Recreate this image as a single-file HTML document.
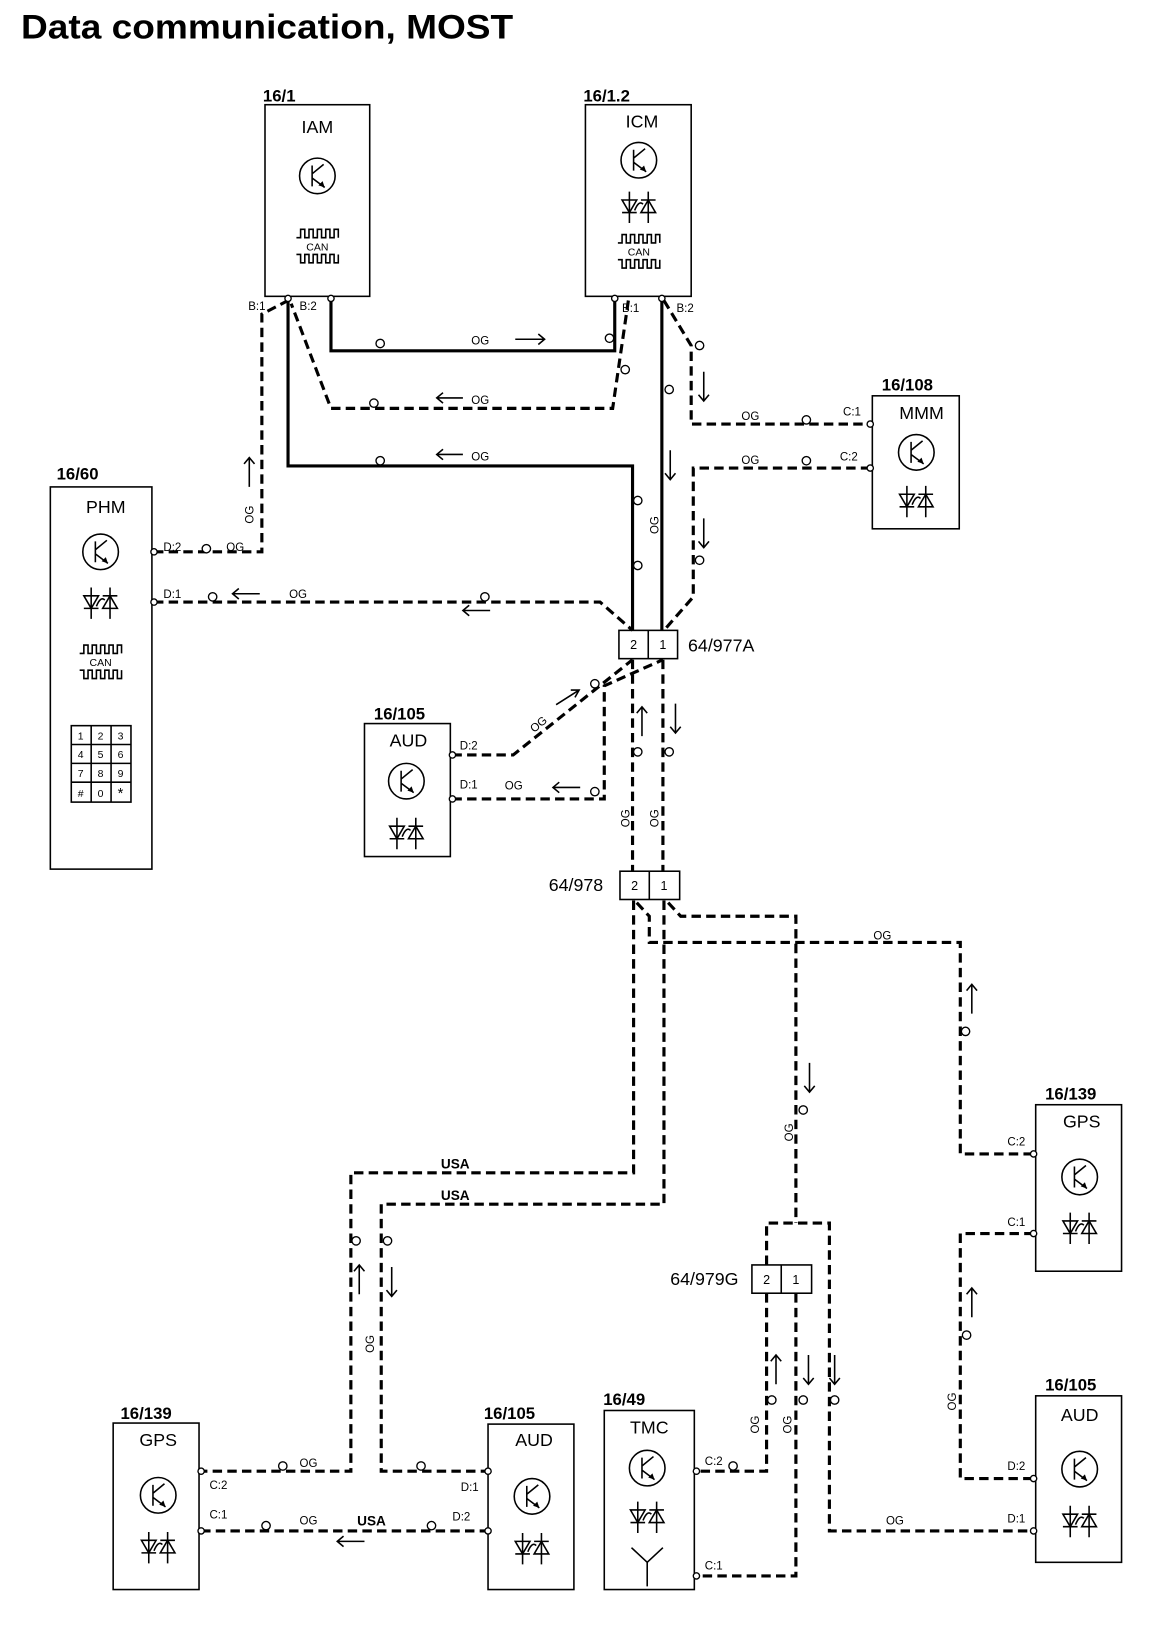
<!DOCTYPE html>
<html><head><meta charset="utf-8"><style>
html,body{margin:0;padding:0;background:#fff}
svg{display:block}
text{font-family:"Liberation Sans",Arial,sans-serif;fill:#000}
.b{font-weight:bold;font-size:16px}
.n{font-size:17px}
.s{font-size:11px}
.w{fill:none;stroke:#000;stroke-width:3}
.d{fill:none;stroke:#000;stroke-width:3;stroke-dasharray:9 5}
.t{fill:none;stroke:#000;stroke-width:1.5}
.c{fill:#fff;stroke:#000;stroke-width:1.3}
</style></head><body>
<svg width="1152" height="1644" viewBox="0 0 1100 1570" xmlns="http://www.w3.org/2000/svg">
<defs>
<g id="tr"><circle r="17" class="t"/><path d="M-5 -10V10M-5 -2L6 -11M-5 2L7 11" class="t"/><path d="M7 11L1 9L5 5Z" fill="#000"/></g>
<g id="di"><path d="M-16 -6H-2L-9 6Z M2 6H16L9 -6Z" class="t"/><path d="M-16 6H-2M2 -6H16M-9 -14V16M9 -14V16M-4 4Q0 -6 4 -2" class="t"/></g>
<g id="can"><path d="M-20 -8H-16V-16H-12V-8H-8V-16H-4V-8H0V-16H4V-8H8V-16H12V-8H16V-16H20V-8" class="t" stroke-width="1.2"/><path d="M-20 8H-16V16H-12V8H-8V16H-4V8H0V16H4V8H8V16H12V8H16V16H20V8" class="t" stroke-width="1.2"/><text x="0" y="4" text-anchor="middle" font-size="10">CAN</text></g>
</defs>
<text x="20" y="37" font-size="33" font-weight="bold" textLength="470" lengthAdjust="spacingAndGlyphs">Data communication, MOST</text>

<!-- boxes -->
<rect x="253" y="100" width="100" height="183" class="t"/>
<text x="251" y="97" class="b">16/1</text><text x="303" y="127" class="n" text-anchor="middle">IAM</text>
<use href="#tr" x="303" y="168"/><use href="#can" x="303" y="235"/>

<rect x="559" y="100" width="101" height="183" class="t" stroke-width="2"/>
<text x="557" y="97" class="b">16/1.2</text><text x="613" y="122" class="n" text-anchor="middle">ICM</text>
<use href="#tr" x="610" y="153"/><use href="#di" x="610" y="197"/><use href="#can" x="610" y="240"/>

<rect x="833" y="378" width="83" height="127" class="t"/>
<text x="842" y="373" class="b">16/108</text><text x="880" y="400" class="n" text-anchor="middle">MMM</text>
<use href="#tr" x="875" y="432"/><use href="#di" x="875" y="478"/>

<rect x="48" y="465" width="97" height="365" class="t"/>
<text x="54" y="458" class="b">16/60</text><text x="101" y="490" class="n" text-anchor="middle">PHM</text>
<use href="#tr" x="96" y="527"/><use href="#di" x="96" y="575"/><use href="#can" x="96" y="632"/>
<g class="t"><rect x="68" y="693" width="57" height="73"/><path d="M87 693V766M106 693V766M68 711H125M68 729H125M68 747H125"/></g>
<g font-size="10" text-anchor="middle"><text x="77" y="706">1</text><text x="96" y="706">2</text><text x="115" y="706">3</text><text x="77" y="724">4</text><text x="96" y="724">5</text><text x="115" y="724">6</text><text x="77" y="742">7</text><text x="96" y="742">8</text><text x="115" y="742">9</text><text x="77" y="761">#</text><text x="96" y="761">0</text><text x="115" y="762" font-size="14">*</text></g>

<rect x="348" y="691" width="82" height="127" class="t"/>
<text x="357" y="687" class="b">16/105</text><text x="390" y="713" class="n" text-anchor="middle">AUD</text>
<use href="#tr" x="388" y="746"/><use href="#di" x="388" y="795"/>

<rect x="989" y="1055" width="82" height="159" class="t"/>
<text x="998" y="1050" class="b">16/139</text><text x="1033" y="1077" class="n" text-anchor="middle">GPS</text>
<use href="#tr" x="1031" y="1124"/><use href="#di" x="1031" y="1172"/>

<rect x="989" y="1333" width="82" height="159" class="t"/>
<text x="998" y="1328" class="b">16/105</text><text x="1031" y="1357" class="n" text-anchor="middle">AUD</text>
<use href="#tr" x="1031" y="1403"/><use href="#di" x="1031" y="1452"/>

<rect x="108" y="1359" width="82" height="159" class="t"/>
<text x="115" y="1355" class="b">16/139</text><text x="151" y="1381" class="n" text-anchor="middle">GPS</text>
<use href="#tr" x="151" y="1428"/><use href="#di" x="151" y="1477"/>

<rect x="466" y="1360" width="82" height="158" class="t"/>
<text x="462" y="1355" class="b">16/105</text><text x="510" y="1381" class="n" text-anchor="middle">AUD</text>
<use href="#tr" x="508" y="1429"/><use href="#di" x="508" y="1478"/>

<rect x="577" y="1347" width="86" height="171" class="t"/>
<text x="576" y="1342" class="b">16/49</text><text x="620" y="1369" class="n" text-anchor="middle">TMC</text>
<use href="#tr" x="618" y="1402"/><use href="#di" x="618" y="1448"/>
<path d="M618 1492V1515M603 1478L618 1492L633 1478" class="t"/>

<!-- connectors -->
<g class="t"><rect x="591" y="602" width="56" height="27"/><path d="M619 602V629"/>
<rect x="592" y="832" width="57" height="27"/><path d="M620 832V859"/>
<rect x="718" y="1208" width="57" height="27"/><path d="M746 1208V1235"/></g>
<g font-size="12" text-anchor="middle"><text x="605" y="620">2</text><text x="633" y="620">1</text><text x="606" y="850">2</text><text x="634" y="850">1</text><text x="732" y="1226">2</text><text x="760" y="1226">1</text></g>
<text x="657" y="622" class="n">64/977A</text>
<text x="524" y="851" class="n">64/978</text>
<text x="640" y="1227" class="n">64/979G</text>

<!-- solid wires -->
<path d="M316 285V335H587V285" class="w"/>
<path d="M275 285V445H604V602" class="w"/>
<path d="M632 285V602" class="w"/>

<!-- dashed wires -->
<path d="M600 287L585 390H316L278 290" class="d"/>
<path d="M634 287L660 330V405H831" class="d"/>
<path d="M831 447H662V570L634 602" class="d"/>
<path d="M147 527H250V300L275 287" class="d"/>
<path d="M147 575H573L604 602" class="d"/>
<path d="M432 721H490L604 630" class="d"/>
<path d="M432 763H577V655L633 630" class="d"/>
<path d="M604 630V832" class="d"/>
<path d="M633 630V832" class="d"/>
<path d="M605 860V1120H335V1405H192" class="d"/>
<path d="M634 860V1150H364V1405H466" class="d"/>
<path d="M192 1462H466" class="d"/>
<path d="M608 862L620 875V900H917V1102H987" class="d"/>
<path d="M638 862L650 875H760V1168" class="d"/>
<path d="M732 1208V1168H792V1462H987" class="d"/>
<path d="M732 1235V1405H665" class="d"/>
<path d="M760 1235V1505H665" class="d"/>
<path d="M987 1178H917V1412H987" class="d"/>

<!-- pin circles -->
<g class="c">
<circle cx="275" cy="285" r="3"/><circle cx="316" cy="285" r="3"/><circle cx="587" cy="285" r="3"/><circle cx="632" cy="285" r="3"/>
<circle cx="831" cy="405" r="3"/><circle cx="831" cy="447" r="3"/><circle cx="147" cy="527" r="3"/><circle cx="147" cy="575" r="3"/>
<circle cx="432" cy="721" r="3"/><circle cx="432" cy="763" r="3"/><circle cx="987" cy="1102" r="3"/><circle cx="987" cy="1178" r="3"/>
<circle cx="987" cy="1412" r="3"/><circle cx="987" cy="1462" r="3"/><circle cx="192" cy="1405" r="3"/><circle cx="192" cy="1462" r="3"/>
<circle cx="466" cy="1405" r="3"/><circle cx="466" cy="1462" r="3"/><circle cx="665" cy="1405" r="3"/><circle cx="665" cy="1505" r="3"/>
<circle cx="363" cy="328" r="4"/><circle cx="582" cy="323" r="4"/><circle cx="363" cy="440" r="4"/><circle cx="609" cy="478" r="4"/>
<circle cx="357" cy="385" r="4"/><circle cx="597" cy="353" r="4"/><circle cx="770" cy="401" r="4"/><circle cx="770" cy="440" r="4"/>
<circle cx="639" cy="372" r="4"/><circle cx="668" cy="330" r="4"/><circle cx="668" cy="535" r="4"/><circle cx="609" cy="540" r="4"/>
<circle cx="197" cy="524" r="4"/><circle cx="203" cy="570" r="4"/><circle cx="463" cy="570" r="4"/>
<circle cx="568" cy="653" r="4"/><circle cx="568" cy="756" r="4"/><circle cx="609" cy="718" r="4"/><circle cx="639" cy="718" r="4"/>
<circle cx="922" cy="985" r="4"/><circle cx="767" cy="1060" r="4"/><circle cx="340" cy="1185" r="4"/><circle cx="370" cy="1185" r="4"/>
<circle cx="923" cy="1275" r="4"/><circle cx="737" cy="1337" r="4"/><circle cx="767" cy="1337" r="4"/><circle cx="797" cy="1337" r="4"/>
<circle cx="270" cy="1400" r="4"/><circle cx="402" cy="1400" r="4"/><circle cx="254" cy="1457" r="4"/><circle cx="412" cy="1457" r="4"/><circle cx="700" cy="1400" r="4"/>
</g>

<!-- arrows -->
<g class="t" stroke-width="1.4">
<path d="M492 324H520M514 319L520 324L514 329"/>
<path d="M417 380H442M423 375L417 380L423 385"/>
<path d="M417 434H442M423 429L417 434L423 439"/>
<path d="M640 430V458M635 452L640 458L645 452"/>
<path d="M672 355V383M667 377L672 383L677 377"/>
<path d="M672 495V523M667 517L672 523L677 517"/>
<path d="M238 437V465M233 443L238 437L243 443"/>
<path d="M222 567H248M228 562L222 567L228 572"/>
<path d="M442 583H468M448 578L442 583L448 588"/>
<path d="M531 673L553 659M545 659L553 659L549 666"/>
<path d="M528 752H554M534 747L528 752L534 757"/>
<path d="M613 675V703M608 681L613 675L618 681"/>
<path d="M645 672V700M640 694L645 700L650 694"/>
<path d="M928 940V968M923 946L928 940L933 946"/>
<path d="M773 1015V1043M768 1037L773 1043L778 1037"/>
<path d="M343 1208V1236M338 1214L343 1208L348 1214"/>
<path d="M374 1210V1238M369 1232L374 1238L379 1232"/>
<path d="M928 1230V1258M923 1236L928 1230L933 1236"/>
<path d="M741 1294V1322M736 1300L741 1294L746 1300"/>
<path d="M772 1294V1322M767 1316L772 1322L777 1316"/>
<path d="M797 1294V1322M792 1316L797 1322L802 1316"/>
<path d="M322 1472H348M328 1467L322 1472L328 1477"/>
</g>

<!-- wire labels -->
<g class="s">
<text x="450" y="329">OG</text><text x="450" y="386">OG</text><text x="450" y="440">OG</text>
<text x="708" y="401">OG</text><text x="708" y="443">OG</text><text x="216" y="526">OG</text><text x="276" y="571">OG</text>
<text x="482" y="754">OG</text><text x="286" y="1401">OG</text><text x="286" y="1456">OG</text><text x="834" y="897">OG</text><text x="846" y="1456">OG</text>
<text x="237" y="296">B:1</text><text x="286" y="296">B:2</text><text x="594" y="298">B:1</text><text x="646" y="298">B:2</text>
<text x="805" y="397">C:1</text><text x="802" y="440">C:2</text><text x="156" y="526">D:2</text><text x="156" y="571">D:1</text>
<text x="439" y="716">D:2</text><text x="439" y="753">D:1</text><text x="200" y="1422">C:2</text><text x="200" y="1450">C:1</text>
<text x="440" y="1424">D:1</text><text x="432" y="1452">D:2</text><text x="673" y="1399">C:2</text><text x="673" y="1499">C:1</text>
<text x="962" y="1094">C:2</text><text x="962" y="1171">C:1</text><text x="962" y="1404">D:2</text><text x="962" y="1454">D:1</text>
</g>
<g class="s">
<text transform="translate(242 500) rotate(-90)">OG</text>
<text transform="translate(629 510) rotate(-90)">OG</text>
<text transform="translate(510 700) rotate(-40)">OG</text>
<text transform="translate(601 790) rotate(-90)">OG</text>
<text transform="translate(629 790) rotate(-90)">OG</text>
<text transform="translate(757 1090) rotate(-90)">OG</text>
<text transform="translate(357 1292) rotate(-90)">OG</text>
<text transform="translate(725 1369) rotate(-90)">OG</text>
<text transform="translate(756 1369) rotate(-90)">OG</text>
<text transform="translate(913 1347) rotate(-90)">OG</text>
</g>
<g font-size="13" font-weight="bold"><text x="421" y="1116">USA</text><text x="421" y="1146">USA</text><text x="341" y="1457">USA</text></g>
</svg>
</body></html>
